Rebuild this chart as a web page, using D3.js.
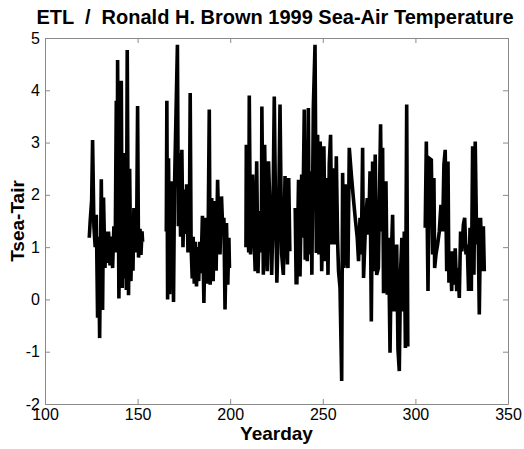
<!DOCTYPE html>
<html>
<head>
<meta charset="utf-8">
<title>ETL / Ronald H. Brown 1999 Sea-Air Temperature</title>
<script src="https://d3js.org/d3.v7.min.js"></script>
<style>
  body { margin: 0; background: #fff; }
  text { font-family: "Liberation Sans", Arial, Helvetica, sans-serif; }
</style>
</head>
<body>
<svg id="chart" width="524" height="449"></svg>
<script type="text/javascript">

// [yearday, Tsea - Tair] per cruise leg
var leg1 = [[123.9,1.18],[124.4,1.5],[125.2,1.9],[125.7,3.05],[126.4,1.4],[127.1,1.0],[127.7,1.62],
  [128.4,-0.35],[128.9,1.2],[129.5,-0.74],[130.0,1.0],[130.4,2.3],[131.1,-0.2],[131.6,1.95],
  [132.4,0.6],[132.9,1.3],[133.6,0.7],[134.3,1.3],[135.1,0.65],[135.8,1.2],[136.5,0.6],
  [137.2,1.4],[137.9,0.9],[138.5,3.8],[139.0,1.0],[139.2,4.58],[139.9,0.02],[140.7,2.8],
  [141.2,4.18],[141.7,0.22],[142.3,2.8],[142.8,0.4],[143.4,2.75],[143.9,0.18],[144.4,4.77],
  [145.1,0.08],[145.7,2.5],[146.4,0.35],[146.9,1.3],[147.5,0.55],[148.0,1.75],[148.7,0.9],
  [149.5,1.35],[150.0,3.7],[150.5,0.8],[151.3,1.35],[151.8,0.85],[152.4,1.3],[152.7,1.1]];

var leg2 = [[165.5,1.3],[165.8,3.8],[166.2,0.0],[166.7,2.7],[167.3,0.1],[168.0,2.26],[168.6,1.8],
  [169.4,-0.05],[169.9,2.1],[171.5,4.87],[172.0,1.4],[172.6,2.8],[173.2,1.2],[173.9,2.86],
  [174.5,1.0],[175.2,2.1],[175.9,1.25],[176.5,2.2],[177.2,0.9],[178.0,1.6],[178.4,3.95],
  [178.9,1.0],[179.5,0.4],[180.0,1.2],[180.6,0.3],[181.2,1.1],[181.8,0.25],[182.4,1.0],
  [183.0,0.35],[183.6,1.1],[184.2,0.5],[185.0,1.6],[185.8,-0.07],[186.6,1.56],[187.4,0.3],
  [188.1,1.3],[188.7,3.63],[189.2,0.28],[190.0,1.94],[190.8,0.35],[191.6,1.88],[192.4,0.55],
  [193.2,2.29],[193.8,1.4],[194.5,0.86],[195.3,1.97],[196.0,1.3],[196.6,1.56],[197.2,-0.19],
  [198.0,1.46],[198.7,0.28],[199.3,1.18],[199.6,0.6]];

var leg3a = [[208.5,1.0],[208.7,2.96],[209.3,1.5],[210.0,0.9],[210.3,3.9],[211.0,0.86],[211.6,1.5],
  [212.1,2.39],[212.9,1.18],[213.5,0.54],[214.3,2.64],[215.0,0.5],[215.6,1.3],[216.2,1.69],
  [216.8,0.9],[217.1,3.69],[217.9,0.47],[218.6,2.96],[219.3,1.3],[220.0,0.54],[220.7,2.64],
  [221.5,1.69],[222.4,0.47],[223.0,1.4],[223.8,3.88],[224.5,1.69],[225.2,0.32],[226.1,1.56],
  [226.9,3.73],[227.8,0.86],[228.7,0.47],[229.6,2.36],[230.9,0.67],[231.6,2.32],[232.2,0.92]];

var leg3b = [[235.1,1.75],[235.6,0.32],[236.0,0.32],[236.9,2.29],[237.7,0.44],[238.6,2.39],
  [239.1,1.18],[240.0,3.63],[240.5,0.76],[241.2,1.4],[241.6,0.73],[242.2,3.66],[242.7,0.86],
  [243.4,2.45],[244.1,0.47],[244.9,3.69],[245.8,4.87],[246.5,0.89],[247.2,3.15],[247.9,0.86],
  [248.6,3.02],[249.4,0.54],[249.9,1.43],[250.6,2.93],[251.3,0.73],[252.1,2.32],[252.8,0.47],
  [253.5,2.61],[254.2,3.15],[254.9,1.05],[255.7,2.51],[256.6,1.05],[257.3,2.74],[258.0,1.11],
  [258.5,0.54],[259.3,0.22],[260.2,-1.56],[260.7,2.42],[261.4,0.6],[262.1,2.2],[262.9,0.8],
  [263.6,0.6],[264.3,2.9],[265.4,2.39],[266.5,1.94],[267.5,1.56],[268.6,1.18],[269.3,0.73],
  [270.1,1.56],[270.8,0.86],[271.5,2.9],[272.0,0.41],[272.8,1.18],[273.3,1.56],[274.0,1.94],
  [274.7,1.24],[275.5,2.45],[276.2,-0.42],[276.9,2.64],[277.6,0.54],[278.3,2.77],[279.1,0.47],
  [280.0,0.6],[281.2,3.35],[281.8,1.3],[282.3,2.9],[282.8,0.12],[283.4,1.05],[284.1,2.26],
  [284.8,0.09],[285.5,1.18],[286.3,-1.02],[287.0,0.86],[287.7,1.62],[288.4,-0.23],[289.1,0.54],
  [289.9,1.05],[290.6,-0.96],[291.3,-1.37],[292.0,0.54],[292.7,1.18],[293.4,-0.23],[294.0,1.3],
  [294.6,-0.93],[295.3,3.73],[295.9,-0.9]];

var leg4 = [[305.3,1.37],[305.9,3.02],[306.8,0.16],[307.5,2.7],[308.6,2.67],[309.3,0.86],[310.0,2.32],
  [310.4,0.6],[311.1,0.86],[312.0,1.05],[312.9,1.3],[313.8,1.81],[314.7,1.3],[315.4,2.58],
  [316.1,2.86],[316.9,0.54],[317.6,2.64],[318.1,0.32],[318.8,0.92],[319.6,0.16],[320.1,0.92],
  [320.8,0.28],[321.5,0.98],[322.3,0.16],[323.0,0.6],[323.7,0.03],[324.4,1.3],[325.1,0.92],
  [325.9,1.43],[326.6,1.56],[327.3,0.86],[328.0,1.05],[328.7,0.16],[329.5,1.37],[330.2,0.16],
  [330.9,2.93],[331.6,0.47],[332.3,3.02],[333.1,1.05],[333.8,1.56],[334.5,-0.29],[335.2,1.56],
  [335.9,0.54],[336.7,1.4],[337.2,0.54]];

var legs = [leg1, leg2, leg3a, leg3b, leg4];

var xTicks = [100, 150, 200, 250, 300, 350];
var yTicks = [-2, -1, 0, 1, 2, 3, 4, 5];

var svg = d3.select("#chart");

var x = d3.scaleLinear().domain([100, 350]).range([45, 508]);
var y = d3.scaleLinear().domain([-2, 5]).range([404, 38]);

var axisGrey = "#8a8a8a";
var plain = function(d) { return String(d); };  // ascii minus, no decimals

function styleAxis(g) {
  g.select(".domain").attr("stroke", axisGrey).attr("stroke-width", 1);
  g.selectAll(".tick line").attr("stroke", axisGrey);
  g.selectAll(".tick text").attr("fill", "#000").style("font-size", "16px");
}

svg.append("g")
  .attr("transform", "translate(0,404)")
  .call(d3.axisBottom(x).tickValues(xTicks).tickFormat(plain).tickSizeInner(-5).tickSizeOuter(0).tickPadding(5))
  .call(styleAxis);

svg.append("g")
  .attr("transform", "translate(0,38)")
  .call(d3.axisTop(x).tickValues(xTicks).tickSizeInner(-5).tickSizeOuter(0).tickFormat(""))
  .call(styleAxis);

svg.append("g")
  .attr("transform", "translate(45,0)")
  .call(d3.axisLeft(y).tickValues(yTicks).tickFormat(plain).tickSizeInner(-5).tickSizeOuter(0).tickPadding(5))
  .call(styleAxis);

svg.append("g")
  .attr("transform", "translate(508,0)")
  .call(d3.axisRight(y).tickValues(yTicks).tickSizeInner(-5).tickSizeOuter(0).tickFormat(""))
  .call(styleAxis);

var line = d3.line()
  .x(function(d) { return x(d[0]); })
  .y(function(d) { return y(d[1]); });

svg.append("g").selectAll("path.leg")
  .data(legs)
  .enter().append("path")
  .attr("class", "leg")
  .attr("d", line)
  .attr("fill", "none")
  .attr("stroke", "#000")
  .attr("stroke-width", 3.6);

svg.append("text")
  .attr("x", 275).attr("y", 24)
  .attr("text-anchor", "middle")
  .style("font-size", "20px").style("font-weight", "bold")
  .style("white-space", "pre")
  .text("ETL  /  Ronald H. Brown 1999 Sea-Air Temperature");

svg.append("text")
  .attr("x", 276.5).attr("y", 440)
  .attr("text-anchor", "middle")
  .style("font-size", "19px").style("font-weight", "bold")
  .text("Yearday");

svg.append("text")
  .attr("transform", "translate(24,221) rotate(-90)")
  .attr("text-anchor", "middle")
  .style("font-size", "19px").style("font-weight", "bold")
  .text("Tsea-Tair");

</script>
</body>
</html>
